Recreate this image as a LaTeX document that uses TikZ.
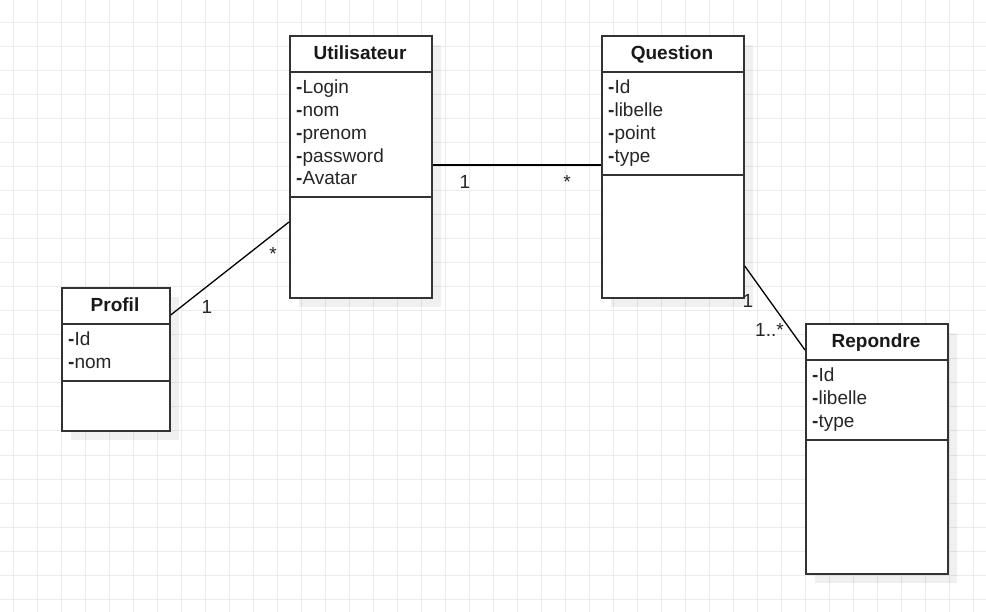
\documentclass[tikz,border=0pt]{standalone}
\usepackage{fontspec}
\setmainfont{Liberation Sans}
\newcommand\attrfnt{\fontsize{19}{22.7}\selectfont}
\newcommand\titlefnt{\fontsize{19}{22.7}\selectfont\bfseries}
\tikzset{
  gridline/.style={draw=black!8, line width=1pt},
  classbox/.style={draw=black!80, line width=1.7pt, fill=white, inner sep=0pt, anchor=north west},
  sepline/.style={draw=black!80, line width=1.7pt},
  shadowbox/.style={fill=black, fill opacity=0.06, draw=none},
  titletext/.style={font=\titlefnt, anchor=base, inner sep=0pt, text=black!90},
  attrtext/.style={font=\attrfnt, anchor=base west, inner sep=0pt, text=black!85},
  multlbl/.style={font=\attrfnt, anchor=base, inner sep=0pt, text=black!85},
  conn/.style={draw=black, line width=1.3pt},
}
\begin{document}
\begin{tikzpicture}[x=1pt,y=-1pt]
\useasboundingbox (0,0) rectangle (986,612);
\fill[white] (0,0) rectangle (986,612);
% grid
\foreach \gx in {13,37,...,985} \draw[gridline] (\gx,0) -- (\gx,612);
\foreach \gy in {23,47,...,611} \draw[gridline] (0,\gy) -- (986,\gy);
% shadows
\fill[shadowbox] (299,45) rectangle (441,307);
\fill[shadowbox] (611,45) rectangle (753,307);
\fill[shadowbox] (71,297) rectangle (179,440);
\fill[shadowbox] (815,333) rectangle (957,583);
% classes
\node[classbox, minimum width=142pt, minimum height=262pt] (util) at (289,35) {};
\node[classbox, minimum width=142pt, minimum height=262pt] (quest) at (601,35) {};
\node[classbox, minimum width=108pt, minimum height=143pt] (prof) at (61,287) {};
\node[classbox, minimum width=142pt, minimum height=250pt] (rep) at (805,323) {};
% compartment lines
\draw[sepline] ([yshift=-37pt]util.north west) -- ([yshift=-37pt]util.north east);
\draw[sepline] ([yshift=-162pt]util.north west) -- ([yshift=-162pt]util.north east);
\draw[sepline] ([yshift=-37pt]quest.north west) -- ([yshift=-37pt]quest.north east);
\draw[sepline] ([yshift=-140pt]quest.north west) -- ([yshift=-140pt]quest.north east);
\draw[sepline] ([yshift=-37pt]prof.north west) -- ([yshift=-37pt]prof.north east);
\draw[sepline] ([yshift=-94pt]prof.north west) -- ([yshift=-94pt]prof.north east);
\draw[sepline] ([yshift=-37pt]rep.north west) -- ([yshift=-37pt]rep.north east);
\draw[sepline] ([yshift=-117pt]rep.north west) -- ([yshift=-117pt]rep.north east);
% titles
\node[titletext] (utilT) at (360,60) {Utilisateur};
\node[titletext] (questT) at (672,60) {Question};
\node[titletext] (profT) at (115,312) {Profil};
\node[titletext] (repT) at (876,348) {Repondre};
% attributes
\node[attrtext] (u1) at (296,94) {\textbf{-}Login};
\node[attrtext] (u2) at (296,116.7) {\textbf{-}nom};
\node[attrtext] (u3) at (296,139.4) {\textbf{-}prenom};
\node[attrtext] (u4) at (296,162.1) {\textbf{-}password};
\node[attrtext] (u5) at (296,184.8) {\textbf{-}Avatar};
\node[attrtext] (q1) at (608,94) {\textbf{-}Id};
\node[attrtext] (q2) at (608,116.7) {\textbf{-}libelle};
\node[attrtext] (q3) at (608,139.4) {\textbf{-}point};
\node[attrtext] (q4) at (608,162.1) {\textbf{-}type};
\node[attrtext] (p1) at (68,346) {\textbf{-}Id};
\node[attrtext] (p2) at (68,368.7) {\textbf{-}nom};
\node[attrtext] (r1) at (812,382) {\textbf{-}Id};
\node[attrtext] (r2) at (812,404.7) {\textbf{-}libelle};
\node[attrtext] (r3) at (812,427.4) {\textbf{-}type};
% connectors
\draw[conn] ([yshift=-130pt]util.north east) -- ([yshift=-130pt]quest.north west);
\draw[conn] ([yshift=-28pt]prof.north east) -- ([yshift=-187pt]util.north west);
\draw[conn] ([yshift=-231pt]quest.north east) -- ([yshift=-27pt]rep.north west);
% multiplicities
\node[multlbl] (m1) at (465,189) {1};
\node[multlbl] (m2) at (567,189) {*};
\node[multlbl] (m3) at (207,314) {1};
\node[multlbl] (m4) at (273,261) {*};
\node[multlbl] (m5) at (748,308) {1};
\node[multlbl] (m6) at (769.5,337) {1..*};
\end{tikzpicture}
\end{document}
